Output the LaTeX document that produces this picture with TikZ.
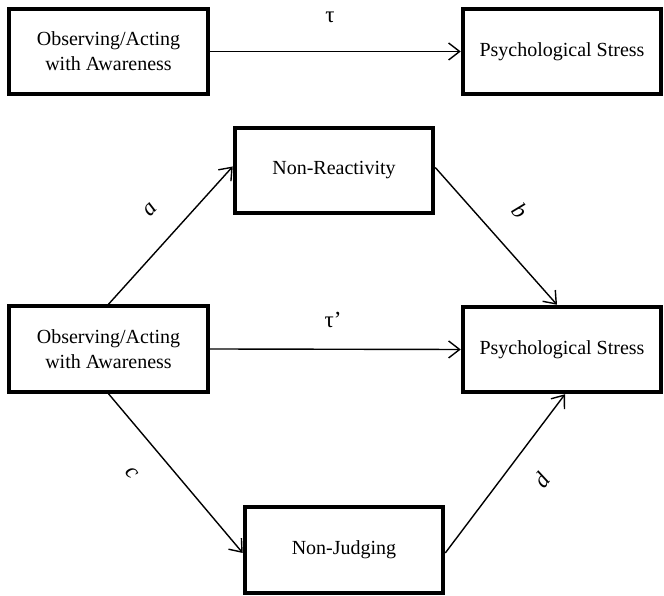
\documentclass[tikz,border=0pt]{standalone}
\usepackage{fontspec}
\setmainfont{Liberation Serif}
\usetikzlibrary{arrows.meta}
\begin{document}
\begin{tikzpicture}[x=1pt,y=1pt,
  box/.style={draw, line width=4pt, minimum width=198.5pt, minimum height=85.5pt,
    inner sep=0pt, align=center, font=\fontsize{20}{25}\selectfont},
  conn/.style={line width=1.4pt, -{Straight Barb[length=11pt,width=17pt,line width=1.4pt]}},
  lbl/.style={font=\fontsize{23}{27}\selectfont\itshape, inner sep=0pt},
  tlbl/.style={font=\fontsize{23}{27}\selectfont, inner sep=0pt}]
\useasboundingbox (0,0) rectangle (664,596);
\node[box] (tl) at (108.5,544.5) {Observing/Acting\\with Awareness};
\node[box] (tr) at (562,544.5) {Psychological Stress};
\node[box] (nr) at (334,425.5) {Non-Reactivity};
\node[box] (ml) at (108.5,247) {Observing/Acting\\with Awareness};
\node[box] (mr) at (562,246.5) {Psychological Stress};
\node[box] (nj) at (344,46) {Non-Judging};

\draw[conn] (tl.east) -- (tr.west);
\draw[conn] (ml.north) -- ([yshift=4pt]nr.west);
\draw[conn] ([yshift=3pt]nr.east) -- ([xshift=-5pt]mr.north);
\draw[conn] (ml.east) -- (mr.west);
\draw[conn] (ml.south) -- ([yshift=-3pt]nj.west);
\draw[conn] ([yshift=-3pt]nj.east) -- ([xshift=3pt]mr.south);

\node[tlbl] (tau) at (330,579) {τ};
\node[tlbl] (taup) at (333,276) {τ’};
\node[lbl, rotate=48] (la) at (150,386) {a};
\node[lbl, rotate=-49] (lb) at (520,385) {b};
\node[lbl, rotate=-50] (lc) at (132,123) {c};
\node[lbl, rotate=53] (ld) at (542,116) {d};
\end{tikzpicture}
\end{document}
